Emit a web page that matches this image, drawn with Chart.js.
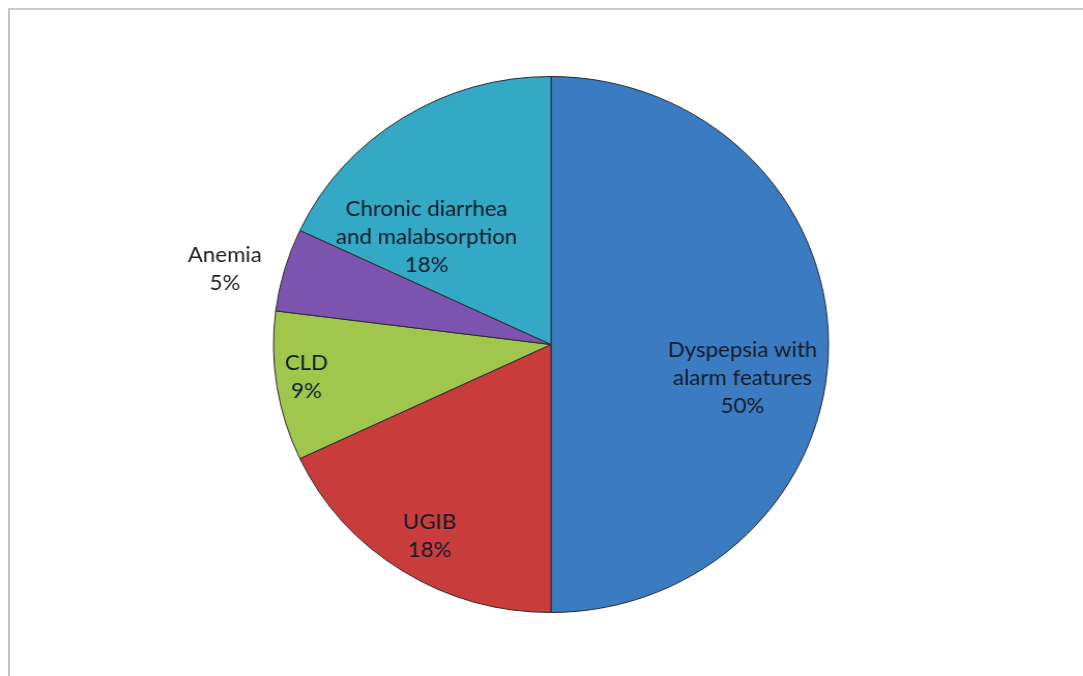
<!DOCTYPE html>
<html>
<head>
<meta charset="utf-8">
<script src="https://cdn.jsdelivr.net/npm/chart.js@4"></script>
<style>
  html,body{margin:0;padding:0;background:#fff;}
  #wrap{position:relative;width:1083px;height:676px;overflow:hidden;}
  #frame{position:absolute;left:8px;top:8px;right:-10px;bottom:-10px;border-top:2px solid #cbcbcb;border-left:2px solid #c4c4c4;}
  canvas{position:absolute;left:0;top:0;transform-origin:551px 344px;transform:scaleX(1.0355);}
</style>
</head>
<body>
<div id="wrap">
  <div id="frame"></div>
  <canvas id="c" width="1083" height="676"></canvas>
</div>
<script>
// ---- data ----
const categories = [
  ["Dyspepsia with", "alarm features"],
  ["UGIB"],
  ["CLD"],
  ["Anemia"],
  ["Chronic diarrhea", "and malabsorption"]
];
const values = [50, 18, 9, 5, 18];
const percentLabels = ["50%", "18%", "9%", "5%", "18%"];

// ---- styles ----
const sliceColors = ["#3b7bc2", "#c83d3c", "#a1c64e", "#7c54b0", "#33a9c6"];
// label placement: fraction of radius along the slice's mid angle, plus a pixel nudge
const labelRadius = [0.69, 0.83, 0.90, 1.22, 0.60];
const labelNudge = [[0,33.5],[2,4],[2,-5],[-1,16],[-34,28]];

const labelPlugin = {
  id: 'sliceLabels',
  afterDatasetsDraw(chart) {
    const ctx = chart.ctx;
    const meta = chart.getDatasetMeta(0);
    ctx.save();
    ctx.font = '21.5px Lato, "Open Sans", sans-serif';
    ctx.textAlign = 'center';
    ctx.textBaseline = 'middle';
    const lh = 28;
    meta.data.forEach((arc, i) => {
      const p = arc.getProps(['x','y','startAngle','endAngle','outerRadius'], true);
      const mid = (p.startAngle + p.endAngle) / 2;
      const r = p.outerRadius * labelRadius[i];
      const cx = p.x + Math.cos(mid) * r + labelNudge[i][0];
      const cy = p.y + Math.sin(mid) * r + labelNudge[i][1];
      const lines = categories[i].concat([percentLabels[i]]);
      const top = cy - (lines.length - 1) * lh / 2;
      ctx.fillStyle = i === 3 ? '#222222' : '#121a28';
      lines.forEach((t, k) => ctx.fillText(t, cx, top + k * lh));
    });
    ctx.restore();
  }
};

new Chart(document.getElementById('c'), {
  type: 'pie',
  data: {
    labels: categories.map(c => c.join(' ')),
    datasets: [{
      data: values,
      backgroundColor: sliceColors,
      borderColor: '#2a2a2a',
      borderWidth: 1
    }]
  },
  options: {
    responsive: false,
    animation: false,
    layout: { padding: { top: 76, bottom: 63, left: 100, right: 81 } },
    plugins: { legend: { display: false }, tooltip: { enabled: false } }
  },
  plugins: [labelPlugin]
});
</script>
</body>
</html>
